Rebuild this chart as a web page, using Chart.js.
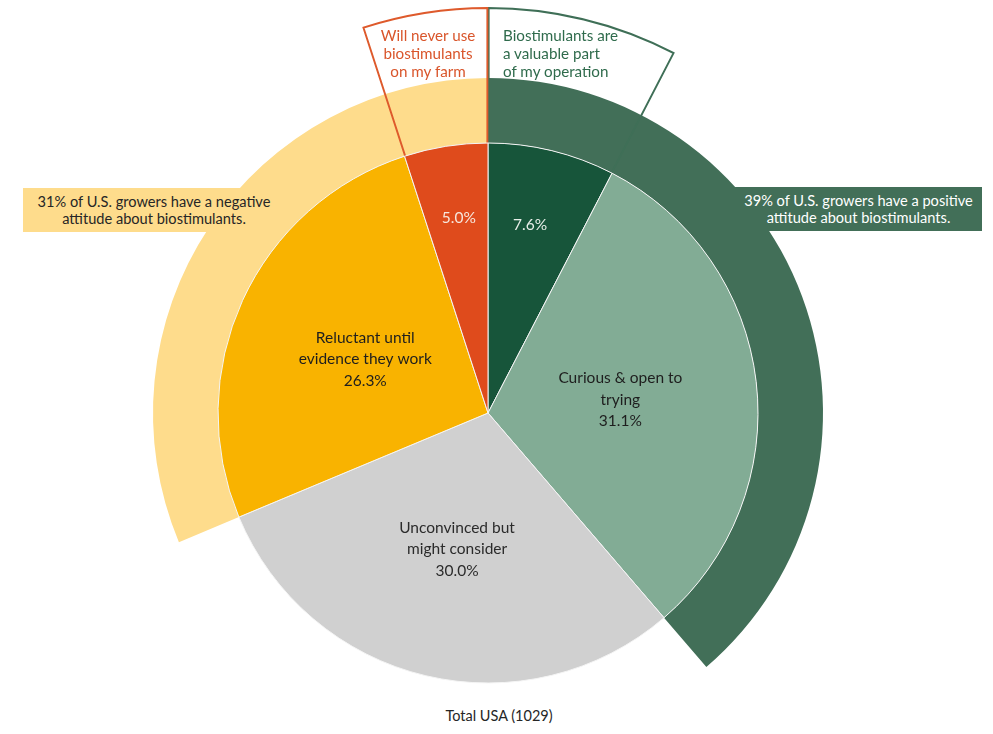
<!DOCTYPE html>
<html>
<head>
<meta charset="utf-8">
<script src="https://cdn.jsdelivr.net/npm/chart.js@4.4.1/dist/chart.umd.min.js"></script>
<style>
  html, body { margin: 0; padding: 0; background: #fff; overflow: hidden; }
  body { width: 993px; height: 734px; position: relative; font-family: Lato, "Open Sans", sans-serif; }
  .layer { position: absolute; left: 78px; top: 3px; }
  .box { position: absolute; height: 44px; font-size: 14.6px; line-height: 17px; text-align: center;
         display: flex; align-items: center; justify-content: center; z-index: 4; }
  .tag { position: absolute; font-size: 15.2px; line-height: 18px; z-index: 5; }
</style>
</head>
<body>

<div class="box" style="left:23px; top:188px; width:262px; background:#fedc8c; color:#262626;">
  <div>31% of U.S. growers have a negative<br>attitude about biostimulants.</div>
</div>
<div class="box" style="left:735px; top:187px; width:247px; background:#426f58; color:#fff;">
  <div>39% of U.S. growers have a positive<br>attitude about biostimulants.</div>
</div>

<canvas id="ring" class="layer" width="820" height="820" style="z-index:1"></canvas>
<canvas id="outline" class="layer" width="820" height="820" style="z-index:2"></canvas>
<canvas id="pie" class="layer" width="820" height="820" style="z-index:3"></canvas>

<div class="tag" style="left:368px; top:26px; width:120px; text-align:center; color:#d9552b;">Will never use<br>biostimulants<br>on my farm</div>
<div class="tag" style="left:503px; top:26px; color:#2f6b4c;">Biostimulants are<br>a valuable part<br>of my operation</div>

<div style="position:absolute; left:0; width:998px; top:707px; text-align:center; font-size:14.5px; color:#262626;">Total USA (1029)</div>

<script>
// attitude segments, clockwise from 12 o'clock
const segments = [
  ['7.6%'],
  ['Curious & open to', 'trying', '31.1%'],
  ['Unconvinced but', 'might consider', '30.0%'],
  ['Reluctant until', 'evidence they work', '26.3%'],
  ['5.0%']
];
const shares = [7.6, 31.1, 30.0, 26.3, 5.0];
const sliceColors = ['#17553a', '#82ac95', '#d0d0d0', '#f9b300', '#df4b1c'];
const labelColors = ['#e8efe9', '#1e1e1e', '#2b2b2b', '#1e1e1e', '#f6e6dc'];

// positive = first two segments, negative = last two
const positive = shares[0] + shares[1];
const undecided = shares[2];
const negative = shares[3] + shares[4];

const CLEAR = 'rgba(0,0,0,0)';
const R_PIE = 270, R_RING = 335, R_TAG = 406;

const base = {
  responsive: false,
  animation: false,
  events: [],
  layout: { padding: 0 },
  plugins: { legend: { display: false }, tooltip: { enabled: false } }
};

// outer band: positive / negative share
new Chart(document.getElementById('ring'), {
  type: 'doughnut',
  data: {
    datasets: [{
      data: [positive, undecided, negative],
      backgroundColor: ['#426f58', CLEAR, '#fedc8c'],
      borderWidth: 0,
      clip: false
    }]
  },
  options: Object.assign({}, base, {
    radius: R_RING,
    cutout: (R_PIE / R_RING * 100) + '%'
  })
});

// outlined wedges for the two extreme answers
new Chart(document.getElementById('outline'), {
  type: 'doughnut',
  data: {
    datasets: [{
      data: [shares[0], shares[1] + shares[2] + shares[3], shares[4]],
      backgroundColor: [CLEAR, CLEAR, CLEAR],
      borderColor: ['#3f6f57', CLEAR, '#de5a2c'],
      borderWidth: [1.6, 0, 1.6],
      borderAlign: 'inner',
      clip: false
    }]
  },
  options: Object.assign({}, base, {
    radius: R_TAG,
    cutout: (R_PIE / R_TAG * 100) - 1 + '%'
  })
});

// slice labels: [radius, angle shift in degrees]
const labelPos = [[193, -1.1], [133, 1], [139.5, -0.5], [134, -1], [197, 0.5]];

const sliceLabels = {
  id: 'sliceLabels',
  afterDatasetsDraw(chart) {
    const ctx = chart.ctx;
    const arcs = chart.getDatasetMeta(0).data;
    ctx.save();
    ctx.font = '15.5px Lato, "Open Sans", sans-serif';
    ctx.textAlign = 'center';
    ctx.textBaseline = 'middle';
    arcs.forEach((arc, i) => {
      const p = arc.getProps(['x', 'y', 'startAngle', 'endAngle']);
      const mid = (p.startAngle + p.endAngle) / 2 + labelPos[i][1] * Math.PI / 180;
      const r = labelPos[i][0];
      const cx = p.x + Math.cos(mid) * r;
      const cy = p.y + Math.sin(mid) * r;
      const lines = segments[i];
      const lh = 21.5;
      ctx.fillStyle = labelColors[i];
      lines.forEach((t, k) => {
        ctx.fillText(t, cx, cy + (k - (lines.length - 1) / 2) * lh);
      });
    });
    ctx.restore();
  }
};

new Chart(document.getElementById('pie'), {
  type: 'pie',
  data: {
    labels: segments.map(s => s.join(' ')),
    datasets: [{
      data: shares,
      backgroundColor: sliceColors,
      borderColor: '#f4f4f4',
      borderWidth: 1,
      clip: false
    }]
  },
  options: Object.assign({}, base, { radius: R_PIE }),
  plugins: [sliceLabels]
});
</script>
</body>
</html>
